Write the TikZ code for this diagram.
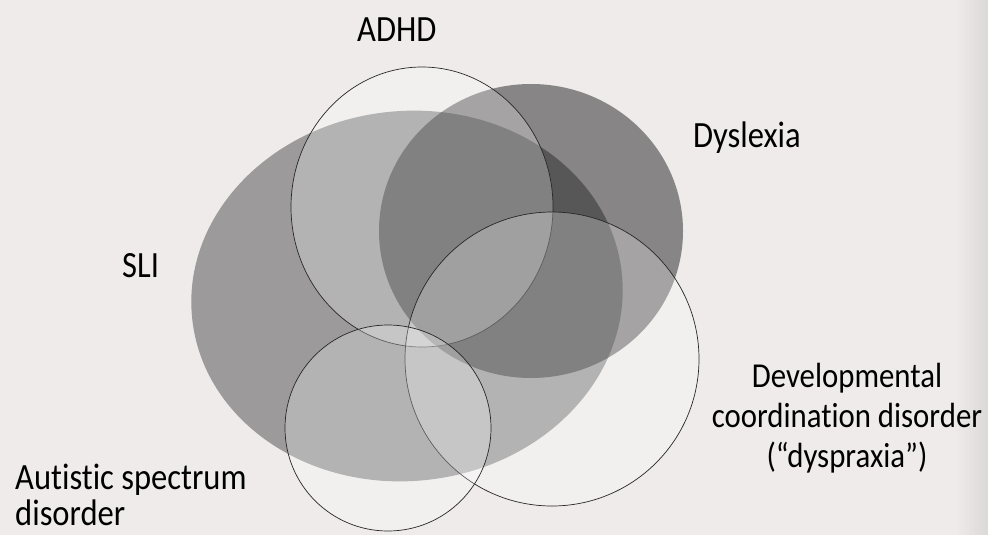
\documentclass[tikz,border=0pt]{standalone}
\usepackage{fontspec}
\setmainfont{Carlito}[FakeStretch=0.88,Ligatures=NoCommon]
\usetikzlibrary{positioning}
\definecolor{paper}{RGB}{238,235,234}
\definecolor{ink}{RGB}{40,38,38}

\begin{document}
\begin{tikzpicture}[x=1pt,y=-1pt,
    blob/.style={fill=black,fill opacity=#1},
    ring/.style={draw=ink,line width=0.7pt,fill=white,fill opacity=0.25},
    tag/.style={font=\fontsize{37}{40}\selectfont,text=black,inner sep=0pt}]
       \fill[paper] (0,0) rectangle (988,535);
       \shade[left color=paper,right color=paper!92!black] (955,0) rectangle (988,535);
       \useasboundingbox (0,0) rectangle (988,535);

       % filled sets
       \fill[blob=0.34,rotate around={6:(407,296)}] (407,296) ellipse [x radius=216, y radius=185];
       \fill[blob=0.43] (531,231) ellipse [x radius=152, y radius=147];

       % outlined sets
       \path[ring] (422,207) ellipse [x radius=131, y radius=140];
       \path[ring] (552,359) circle [radius=147];
       \path[ring] (388,428) circle [radius=103];

       \node[tag,anchor=base west] (adhd) at (357,42) {ADHD};
       \node[tag,anchor=base west] (dys) at (693,147) {Dyslexia};
       \node[tag,anchor=base west] (sli) at (122,277) {SLI};
       \node[tag,align=center,anchor=base,font=\fontsize{35}{40}\selectfont] (dcd) at (847,467) {Developmental\\coordination disorder\\(“dyspraxia”)};
       \node[tag,align=left,anchor=base west,font=\fontsize{37}{36}\selectfont] (asd) at (15,525) {Autistic spectrum\\disorder};
\end{tikzpicture}
\end{document}
